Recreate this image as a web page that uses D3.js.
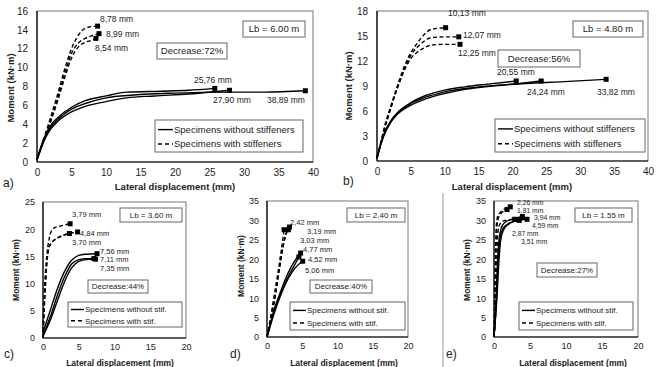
<!DOCTYPE html>
<html><head><meta charset="utf-8">
<script src="https://cdn.jsdelivr.net/npm/d3@7"></script>
<style>body{margin:0;background:#fff}svg text{font-family:"Liberation Sans",Arial,sans-serif}</style>
</head><body>
<svg id="c" width="661" height="367"></svg>
<script>
// ---------- DATA ----------
// Panel a) Lb = 6.00 m
const aXTicks = [0,5,10,15,20,25,30,35,40];
const aYTicks = [0,2,4,6,8,10,12,14,16];
const aSolid1 = [[0,0.3],[1,2.5],[2,3.9],[3,4.7],[5,5.8],[7,6.5],[10,7.0],[13,7.4],[18,7.5],[22,7.6],[25.76,7.8]];
const aSolid2 = [[0,0.2],[1,2.2],[2,3.5],[3,4.3],[5,5.3],[7,5.9],[10,6.4],[13,6.8],[17,7.0],[22,7.2],[27.9,7.6]];
const aSolid3 = [[0,0.2],[1,2.3],[2,3.7],[3,4.5],[5,5.6],[7,6.2],[10,6.8],[14,7.1],[20,7.3],[28,7.4],[33,7.4],[38.89,7.55]];
const aStif1 = [[0,0.3],[1,2.5],[2,4.8],[3,7.2],[4,9.8],[5,12.0],[5.8,13.2],[6.5,13.9],[7.5,14.3],[8.78,14.4]];
const aStif2 = [[0,0.3],[1,2.4],[2,4.5],[3,6.8],[4,9.3],[5,11.5],[6,12.6],[7,13.1],[8,13.4],[8.99,13.6]];
const aStif3 = [[0,0.3],[1,2.3],[2,4.3],[3,6.5],[4,8.9],[5,11.0],[6,12.2],[7,12.7],[8,12.9],[8.54,13.1]];
const aLabels = ["8,78 mm","8,99 mm","8,54 mm","25,76 mm","27,90 mm","38,89 mm"];

// Panel b) Lb = 4.80 m
const bXTicks = [0,5,10,15,20,25,30,35,40];
const bYTicks = [0,3,6,9,12,15,18];
const bSolid1 = [[0,0.3],[0.5,2],[1,3.2],[2,4.8],[3,5.8],[5,7.0],[7,7.8],[10,8.5],[13,8.9],[16,9.2],[20.55,9.6]];
const bSolid2 = [[0,0.3],[0.5,1.8],[1,3.0],[2,4.6],[3,5.6],[5,6.7],[7,7.4],[10,8.1],[13,8.6],[17,9.0],[21,9.3],[24.24,9.6]];
const bSolid3 = [[0,0.3],[0.5,1.9],[1,3.1],[2,4.7],[3,5.7],[5,6.9],[7,7.6],[10,8.3],[14,8.8],[18,9.1],[22,9.3],[27,9.5],[33.82,9.8]];
const bStif1 = [[0,0.5],[0.5,2],[1,3.8],[2,6.5],[3,9.0],[4,11.3],[5,13.0],[6,14.2],[7,15.2],[8,15.8],[10.13,16.0]];
const bStif2 = [[0,0.5],[0.5,1.9],[1,3.6],[2,6.3],[3,8.8],[4,11.0],[5,12.7],[6,13.7],[7,14.4],[8,14.8],[10,14.9],[12.07,14.9]];
const bStif3 = [[0,0.5],[0.5,1.9],[1,3.5],[2,6.2],[3,8.7],[4,10.8],[5,12.3],[6,13.1],[7,13.6],[8,13.9],[10,14.0],[12.25,14.0]];
const bLabels = ["10,13 mm","12,07 mm","12,25 mm","20,55 mm","24,24 mm","33,82 mm"];

// Panel c) Lb = 3.60 m
const cXTicks = [0,5,10,15,20];
const cYTicks = [0,5,10,15,20,25];
const cSolid1 = [[0,1],[1,5],[2,9],[3,12.2],[4,14.3],[5,15.2],[6,15.4],[7.56,15.5]];
const cSolid2 = [[0,0.5],[1,3.8],[2,7.8],[3,11.2],[4,13.6],[5,14.4],[6,14.6],[7.11,14.6]];
const cSolid3 = [[0,0.3],[1,3.2],[2,6.8],[3,10.3],[4,12.9],[5,14.1],[6,14.4],[7.35,14.5]];
const cStif1 = [[0,0],[0.1,5],[0.25,10],[0.45,14],[0.7,17],[1,19],[1.5,20.2],[2.5,20.6],[3.79,21.0]];
const cStif2 = [[0,0],[0.15,5],[0.35,10],[0.55,14],[0.8,16.5],[1.2,17.5],[2,18.3],[3,18.9],[4,19.3],[4.84,19.5]];
const cStif3 = [[0,0],[0.15,5],[0.35,10],[0.55,14],[0.8,16.5],[1.2,17.5],[2,18.4],[3,19.0],[3.70,19.2]];
const cLabels = ["3,79 mm","4,84 mm","3,70 mm","7,56 mm","7,11 mm","7,35 mm"];

// Panel d) Lb = 2.40 m
const dXTicks = [0,5,10,15,20];
const dYTicks = [0,5,10,15,20,25,30,35];
const dSolid1 = [[0,0],[1,7],[2,12],[3,16.5],[4,19.8],[4.77,21.6]];
const dSolid2 = [[0,0],[1,6.5],[2,11.5],[3,15.5],[4,18.8],[4.52,20.6]];
const dSolid3 = [[0,0],[1,6],[2,11],[3,15],[4,17.8],[5.06,19.5]];
const dStif1 = [[0,0],[0.5,5],[1,10.5],[1.5,16],[2,22],[2.3,26],[2.42,27.6]];
const dStif2 = [[0,0],[0.6,5],[1.2,11],[1.8,18],[2.3,23.5],[2.7,26.5],[3.19,28.3]];
const dStif3 = [[0,0],[0.6,5],[1.2,11],[1.8,18],[2.3,23.5],[2.7,26.5],[3.03,27.6]];
const dLabels = ["2,42 mm","3,19 mm","3,03 mm","4,77 mm","4,52 mm","5,06 mm"];

// Panel e) Lb = 1.55 m
const eXTicks = [0,5,10,15,20];
const eYTicks = [0,5,10,15,20,25,30,35];
const eSolid1 = [[0,0],[0.3,10],[0.5,20],[0.7,25],[1,28],[1.5,29.5],[2.5,30.3],[3.94,31.0]];
const eSolid2 = [[0,0],[0.35,10],[0.6,20],[0.8,25],[1.2,27.8],[2,29.2],[3,29.9],[4.59,30.3]];
const eSolid3 = [[0,0],[0.4,10],[0.7,20],[0.9,24.5],[1.3,27.5],[2,29],[3.51,30.0]];
const eStif1 = [[0,0],[0.1,10],[0.2,20],[0.3,28],[0.5,31],[1,32.3],[1.6,33],[2.26,33.5]];
const eStif2 = [[0,0],[0.15,10],[0.25,20],[0.35,27],[0.6,30.5],[1,31.8],[1.81,32.8]];
const eStif3 = [[0,0],[0.3,10],[0.4,20],[0.5,26],[0.8,29],[1.5,30],[2.87,30.3]];
const eLabels = ["2,26 mm","1,81 mm","3,94 mm","4,59 mm","2,87 mm","3,51 mm"];

const lbTexts = ["Lb = 6.00 m","Lb = 4.80 m","Lb = 3.60 m","Lb = 2.40 m","Lb = 1.55 m"];
const decTexts = ["Decrease:72%","Decrease:56%","Decrease:44%","Decrease:40%","Decrease:27%"];
const panelLetters = ["a)","b)","c)","d)","e)"];
const legendLong = ["Specimens without stiffeners","Specimens with stiffeners"];
const legendShort = ["Specimens without stif.","Specimens with stif."];
const xTitle = "Lateral displacement (mm)";
const yTitle = "Moment (kN·m)";

// ---------- DRAWING ----------
const svg = d3.select("#c");

function panel(p){
  const x = d3.scaleLinear().domain([0,p.xMax]).range([p.l,p.r]);
  const y = d3.scaleLinear().domain([0,p.yMax]).range([p.b,p.t]);
  const g = svg.append("g");
  g.append("rect").attr("x",p.l).attr("y",p.t).attr("width",p.r-p.l).attr("height",p.b-p.t)
    .attr("fill","none").attr("stroke","#777").attr("stroke-width",1);
  const xa = g.append("g").attr("transform",`translate(0,${p.b})`)
    .call(d3.axisBottom(x).tickValues(p.xTicks).tickSize(0).tickPadding(p.tpx).tickFormat(d3.format("d")));
  const ya = g.append("g").attr("transform",`translate(${p.l},0)`)
    .call(d3.axisLeft(y).tickValues(p.yTicks).tickSize(0).tickPadding(p.tpy).tickFormat(d3.format("d")));
  [xa,ya].forEach(a=>{
    a.select(".domain").attr("stroke","#000").attr("stroke-width",1.2);
    a.selectAll("text").attr("font-size",p.fs).attr("fill","#222");
  });
  xa.select(".domain").attr("d",`M${p.l},0H${p.r}`);
  ya.select(".domain").attr("d",`M0,${p.b}V${p.t}`);

  const line = d3.line().x(d=>x(d[0])).y(d=>y(d[1])).curve(d3.curveMonotoneX);
  p.solid.forEach(s=>{
    g.append("path").attr("d",line(s)).attr("fill","none").attr("stroke","#000").attr("stroke-width",1.4);
  });
  p.stif.forEach(s=>{
    g.append("path").attr("d",line(s)).attr("fill","none").attr("stroke","#000").attr("stroke-width",1.4)
      .attr("stroke-dasharray","4,2.5");
  });
  p.stif.concat(p.solid).forEach(s=>{
    const e = s[s.length-1];
    g.append("rect").attr("x",x(e[0])-2.5).attr("y",y(e[1])-2.5).attr("width",5).attr("height",5).attr("fill","#000");
  });
  // annotations
  p.labels.forEach((t,i)=>{
    g.append("text").attr("x",p.lp[i][0]).attr("y",p.lp[i][1]).attr("dy","0.35em")
      .attr("font-size",p.afs).attr("fill","#222").text(t);
  });
  function box(bx,txt,fs){
    g.append("rect").attr("x",bx[0]).attr("y",bx[1]).attr("width",bx[2]-bx[0]).attr("height",bx[3]-bx[1])
      .attr("fill","#fff").attr("stroke","#666").attr("stroke-width",1);
    g.append("text").attr("x",(bx[0]+bx[2])/2).attr("y",(bx[1]+bx[3])/2).attr("dy","0.35em")
      .attr("text-anchor","middle").attr("font-size",fs).attr("fill","#222").text(txt);
  }
  box(p.lbBox,p.lb,p.bfs);
  box(p.decBox,p.dec,p.bfs);
  // legend
  const lg = p.legBox;
  g.append("rect").attr("x",lg[0]).attr("y",lg[1]).attr("width",lg[2]-lg[0]).attr("height",lg[3]-lg[1])
    .attr("fill","#fff").attr("stroke","#666").attr("stroke-width",1);
  const r1 = lg[1]+(lg[3]-lg[1])*0.3, r2 = lg[1]+(lg[3]-lg[1])*0.75;
  g.append("line").attr("x1",lg[0]+3).attr("x2",lg[0]+p.legLen).attr("y1",r1).attr("y2",r1).attr("stroke","#000").attr("stroke-width",1.4);
  g.append("line").attr("x1",lg[0]+3).attr("x2",lg[0]+p.legLen).attr("y1",r2).attr("y2",r2).attr("stroke","#000").attr("stroke-width",1.4).attr("stroke-dasharray","4,3");
  [r1,r2].forEach((ry,i)=>{
    g.append("text").attr("x",lg[0]+p.legLen+1).attr("y",ry).attr("dy","0.35em").attr("font-size",p.bfs)
      .attr("fill","#222").text(p.legend[i]);
  });
  // titles
  g.append("text").attr("x",p.xtx).attr("y",p.xty).attr("text-anchor","middle").attr("font-weight","bold")
    .attr("font-size",p.tfs).attr("fill","#222").text(xTitle);
  g.append("text").attr("transform",`translate(${p.ytx},${p.yty}) rotate(-90)`).attr("text-anchor","middle")
    .attr("font-weight","bold").attr("font-size",p.tfs).attr("fill","#222").text(yTitle);
  g.append("text").attr("x",p.letter[0]).attr("y",p.letter[1]).attr("font-size",12).attr("fill","#222").text(p.let);
}

panel({l:37,r:313,t:11,b:162,xMax:40,yMax:16,xTicks:aXTicks,yTicks:aYTicks,tpx:7,tpy:9,fs:10,
  solid:[aSolid1,aSolid2,aSolid3],stif:[aStif1,aStif2,aStif3],labels:aLabels,afs:8.5,
  lp:[[100,19],[106,34],[95,48],[194,80],[213,100],[267,100]],
  lb:lbTexts[0],dec:decTexts[0],lbBox:[243,21,305,37],decBox:[157,43,227,59],bfs:9.5,
  legBox:[155,120,303,152],legLen:18,legend:legendLong,
  xtx:175,xty:190,ytx:14,yty:88,tfs:9.5,letter:[3,187],let:panelLetters[0]});

panel({l:377,r:648,t:11,b:161,xMax:40,yMax:18,xTicks:bXTicks,yTicks:bYTicks,tpx:7,tpy:9,fs:10,
  solid:[bSolid1,bSolid2,bSolid3],stif:[bStif1,bStif2,bStif3],labels:bLabels,afs:8.5,
  lp:[[448,13],[463,35],[458,53],[497,72],[527,92],[597,92]],
  lb:lbTexts[1],dec:decTexts[1],lbBox:[573,21,643,37],decBox:[498,50,580,67],bfs:9.5,
  legBox:[495,119,645,152],legLen:18,legend:legendLong,
  xtx:512,xty:190,ytx:352,yty:86,tfs:9.5,letter:[343,185],let:panelLetters[1]});

panel({l:43,r:186,t:202,b:338,xMax:20,yMax:25,xTicks:cXTicks,yTicks:cYTicks,tpx:6,tpy:8,fs:9,
  solid:[cSolid1,cSolid2,cSolid3],stif:[cStif1,cStif2,cStif3],labels:cLabels,afs:7.5,
  lp:[[72,214],[80,233],[72,242],[100,251],[100,259],[100,268]],
  lb:lbTexts[2],dec:decTexts[2],lbBox:[120,208,182,222],decBox:[88,280,148,293],bfs:8,
  legBox:[68,302,182,327],legLen:16,legend:legendShort,
  xtx:120,xty:366,ytx:19,yty:270,tfs:8.5,letter:[4,358],let:panelLetters[2]});

panel({l:267,r:408,t:201,b:337,xMax:20,yMax:35,xTicks:dXTicks,yTicks:dYTicks,tpx:6,tpy:8,fs:9,
  solid:[dSolid1,dSolid2,dSolid3],stif:[dStif1,dStif2,dStif3],labels:dLabels,afs:7.5,
  lp:[[290,222],[307,231],[300,240],[303,249],[308,259],[305,270]],
  lb:lbTexts[3],dec:decTexts[3],lbBox:[347,208,405,222],decBox:[310,280,372,293],bfs:8,
  legBox:[290,302,405,330],legLen:16,legend:legendShort,
  xtx:344,xty:366,ytx:244,yty:266,tfs:8.5,letter:[230,358],let:panelLetters[3]});

panel({l:494,r:638,t:201,b:337,xMax:20,yMax:35,xTicks:eXTicks,yTicks:eYTicks,tpx:6,tpy:8,fs:9,
  solid:[eSolid1,eSolid2,eSolid3],stif:[eStif1,eStif2,eStif3],labels:eLabels,afs:6.8,
  lp:[[517,203],[517,210.5],[534,218],[532,225.5],[512,234],[521,242]],
  lb:lbTexts[4],dec:decTexts[4],lbBox:[575,208,632,222],decBox:[537,263,597,277],bfs:8,
  legBox:[519,302,633,330],legLen:16,legend:legendShort,
  xtx:573,xty:366,ytx:470,yty:270,tfs:8.5,letter:[446,358],let:panelLetters[4]});

// separator line of panel e) chart area
svg.append("line").attr("x1",443).attr("x2",443).attr("y1",193).attr("y2",367).attr("stroke","#999").attr("stroke-width",1);
</script>
</body></html>
